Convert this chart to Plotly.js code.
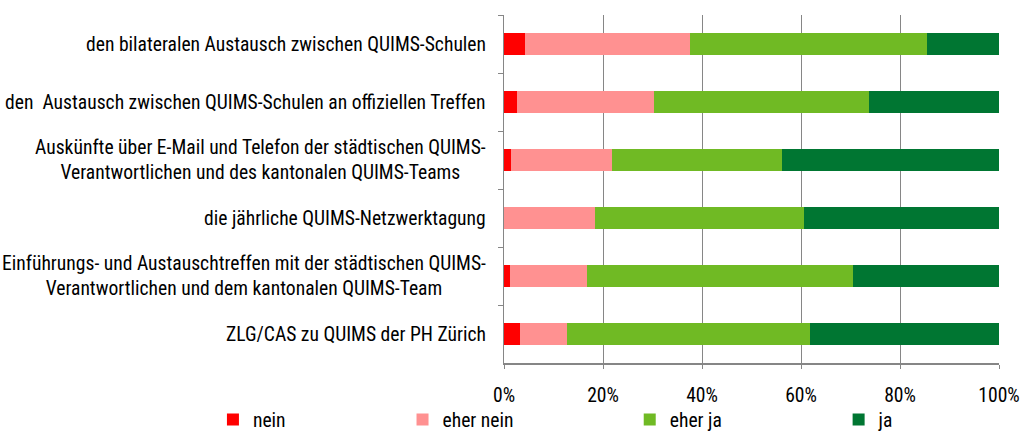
<!DOCTYPE html>
<html><head><meta charset="utf-8">
<script src="https://cdn.plot.ly/plotly-3.0.1.min.js"></script>
<style>html,body{margin:0;padding:0;background:#fff}#chart{width:1023px;height:434px}</style>
</head><body><div id="chart"></div>
<script>
const categories = [
  "den bilateralen Austausch zwischen QUIMS-Schulen",
  "den  Austausch zwischen QUIMS-Schulen an offiziellen Treffen",
  "Auskünfte über E-Mail und Telefon der städtischen QUIMS-<br>Verantwortlichen und des kantonalen QUIMS-Teams",
  "die jährliche QUIMS-Netzwerktagung",
  "Einführungs- und Austauschtreffen mit der städtischen QUIMS-<br>Verantwortlichen und dem kantonalen QUIMS-Team",
  "ZLG/CAS zu QUIMS der PH Zürich"
];
const seriesNames = ["nein", "eher nein", "eher ja", "ja"];
const nein     = [4.3, 2.7, 1.5, 0.0, 1.2, 3.2];
const eherNein = [33.3, 27.7, 20.4, 18.4, 15.5, 9.5];
const eherJa   = [47.8, 43.3, 34.3, 42.2, 53.8, 49.2];
const ja       = [14.6, 26.3, 43.8, 39.4, 29.5, 38.1];
const tickVals = [0, 20, 40, 60, 80, 100];
const tickText = ["0%", "20%", "40%", "60%", "80%", "100%"];

const colors = ["#FF0000", "#FF9191", "#70BA24", "#007632"];
const values = [nein, eherNein, eherJa, ja];

// pick a narrow font if one is installed, and a size matching the reference text width
function pickFont() {
  const cands = ["Liberation Sans Narrow", "Roboto Condensed", "Arial Narrow", "Open Sans Condensed", "DejaVu Sans Condensed", "Liberation Sans"];
  const c = document.createElement("canvas").getContext("2d");
  const s = "den bilateralen Austausch zwischen QUIMS-Schulen";
  for (const f of cands) {
    c.font = "20px '" + f + "', monospace"; const a = c.measureText(s).width;
    c.font = "20px '" + f + "', serif"; const b = c.measureText(s).width;
    if (Math.abs(a - b) < 0.5) {
      const size = Math.min(21, 20 * 401 / a);
      return {family: "'" + f + "', Arial, sans-serif", size: Math.round(size * 10) / 10};
    }
  }
  return {family: "Arial, sans-serif", size: 17};
}
const F = pickFont();
const FONT = F.family, FS = F.size;

const legendX = [-0.588, -0.205, 0.254, 0.676];
const legendNames = ["legend", "legend2", "legend3", "legend4"];

const traces = values.map((v, i) => ({
  type: "bar", orientation: "h", name: seriesNames[i], legend: legendNames[i],
  x: v, y: categories, marker: {color: colors[i], line: {width: 0}},
  hoverinfo: "x+name"
}));

const annotations = categories.map(c => ({
  xref: "paper", yref: "y", x: -0.033, y: c, text: c,
  xanchor: "right", yanchor: "middle", align: "center", showarrow: false,
  font: {family: FONT, size: FS, color: "#000"}
}));

const layout = {
  width: 1023, height: 434,
  margin: {l: 504, r: 24, t: 15, b: 71, autoexpand: false},
  barmode: "stack", bargap: 0.62,
  paper_bgcolor: "#fff", plot_bgcolor: "#fff",
  font: {family: FONT, size: FS, color: "#000"},
  showlegend: true,
  xaxis: {range: [0, 100], tickvals: tickVals, ticktext: tickText,
    showgrid: true, gridcolor: "#868686", gridwidth: 1, zeroline: false,
    showline: true, linecolor: "#868686", linewidth: 1.5,
    ticks: "outside", ticklen: 4, tickcolor: "#868686", ticklabelstandoff: 10,
    tickfont: {family: FONT, size: FS, color: "#000"}},
  yaxis: {type: "category", autorange: "reversed", showticklabels: false,
    showline: true, linecolor: "#868686", linewidth: 1.5,
    ticks: "outside", tickson: "boundaries", ticklen: 5, tickcolor: "#868686",
    showgrid: false, zeroline: false},
  annotations: annotations
};
legendNames.forEach((ln, i) => {
  layout[ln] = {orientation: "h", x: legendX[i], xanchor: "left", y: -0.163, yanchor: "middle",
    itemwidth: 30, bgcolor: "rgba(0,0,0,0)", font: {family: FONT, size: FS, color: "#000"}};
});

Plotly.newPlot("chart", traces, layout, {displayModeBar: false, staticPlot: true});
</script></body></html>
